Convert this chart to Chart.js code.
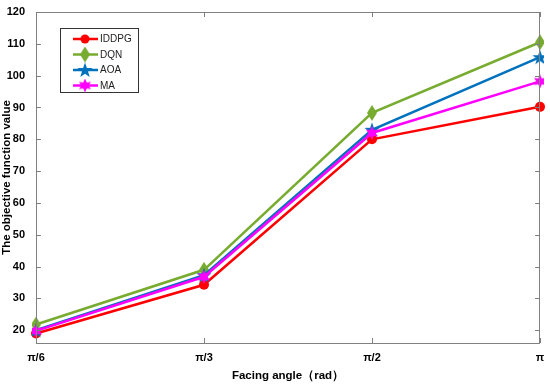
<!DOCTYPE html>
<html lang="en">
<head>
  <meta charset="UTF-8">
  <title>Objective function vs facing angle</title>
  <script src="https://cdn.jsdelivr.net/npm/chart.js"></script>
  <style>
    body { margin: 0; background: #fff; }
    #wrap { width: 550px; height: 386px; }
  </style>
</head>
<body>
  <div id="wrap">
    <canvas id="myChart" width="550" height="386"></canvas>
  </div>

  <script>
    // data
    const angles = ['π/6', 'π/3', 'π/2', 'π'];
    const iddpg = [19, 34.3, 80, 90.2];
    const dqn = [21.8, 39, 88.3, 110.5];
    const aoa = [20, 37.3, 83, 105.8];
    const ma = [19.8, 36.8, 82, 98.2];
    const yTicks = [20, 30, 40, 50, 60, 70, 80, 90, 100, 110, 120];

    const tickFont = { family: "'Liberation Sans Narrow', 'Liberation Sans', Arial", size: 11, weight: 'bold' };
    const titleFont = { family: "'Liberation Sans', Arial", size: 11.5, weight: 'bold' };

    // little marker images
    function marker(w, h, draw) {
      const c = document.createElement('canvas');
      c.width = w; c.height = h;
      draw(c.getContext('2d'), w, h);
      return c;
    }
    function starPath(ctx, cx, cy, n, ro, ri) {
      ctx.beginPath();
      for (let i = 0; i < n * 2; i++) {
        const r = i % 2 ? ri : ro;
        const a = -Math.PI / 2 + i * Math.PI / n;
        ctx.lineTo(cx + r * Math.cos(a), cy + r * Math.sin(a));
      }
      ctx.closePath();
    }
    const diamond = marker(10, 16, (ctx, w, h) => {
      ctx.fillStyle = '#77ac30';
      ctx.beginPath();
      ctx.moveTo(w / 2, 0); ctx.lineTo(w, h / 2); ctx.lineTo(w / 2, h); ctx.lineTo(0, h / 2);
      ctx.closePath(); ctx.fill();
    });
    const star5 = marker(16, 16, (ctx, w, h) => {
      ctx.fillStyle = '#0072bd';
      starPath(ctx, 8, 8.5, 5, 8, 3.2); ctx.fill();
    });
    const star6 = marker(14, 14, (ctx, w, h) => {
      ctx.fillStyle = '#ff00ff';
      starPath(ctx, 7, 7, 6, 7, 3.6); ctx.fill();
    });

    const frame = {
      id: 'frame',
      afterDraw(chart) {
        const ctx = chart.ctx;
        const a = chart.chartArea;
        const xs = chart.scales.x, ys = chart.scales.y;
        ctx.save();
        ctx.strokeStyle = '#808080';
        ctx.lineWidth = 1;
        ctx.strokeRect(a.left + 0.5, a.top + 0.5, a.right - a.left - 1, a.bottom - a.top);
        ctx.beginPath();
        angles.forEach((l, i) => {
          const px = Math.round(xs.getPixelForValue(i)) + 0.5;
          ctx.moveTo(px, a.bottom); ctx.lineTo(px, a.bottom - 5);
          ctx.moveTo(px, a.top); ctx.lineTo(px, a.top + 5);
        });
        yTicks.forEach(v => {
          const py = Math.round(ys.getPixelForValue(v)) + 0.5;
          ctx.moveTo(a.left, py); ctx.lineTo(a.left + 5, py);
          ctx.moveTo(a.right, py); ctx.lineTo(a.right - 5, py);
        });
        ctx.stroke();

        // legend box inside the plot
        const bx = 60, by = 28, bw = 78, bh = 64;
        ctx.fillStyle = '#fff';
        ctx.fillRect(bx, by, bw, bh);
        ctx.strokeStyle = '#333';
        ctx.strokeRect(bx + 0.5, by + 0.5, bw, bh);
        chart.data.datasets.forEach((ds, i) => {
          const y = 39 + i * 15.5;
          ctx.strokeStyle = ds.borderColor;
          ctx.lineWidth = 2.5;
          ctx.beginPath(); ctx.moveTo(73, y); ctx.lineTo(98, y); ctx.stroke();
          const ps = ds.pointStyle;
          if (typeof ps === 'string') {
            ctx.fillStyle = ds.borderColor;
            ctx.beginPath(); ctx.arc(85, y, 4.5, 0, Math.PI * 2); ctx.fill();
          } else {
            ctx.drawImage(ps, 85 - ps.width / 2, y - ps.height / 2);
          }
          ctx.fillStyle = '#222';
          ctx.font = "10px 'Liberation Sans Narrow', 'Liberation Sans', Arial";
          ctx.textBaseline = 'middle';
          ctx.fillText(ds.label, 100, y + 0.5);
        });
        ctx.restore();
      }
    };

    const ctx = document.getElementById('myChart').getContext('2d');
    const myChart = new Chart(ctx, {
      type: 'line',
      data: {
        labels: angles,
        datasets: [
          { label: 'IDDPG', data: iddpg, order: 4, borderColor: '#ff0000', backgroundColor: '#ff0000', pointStyle: 'circle', pointRadius: 5 },
          { label: 'DQN', data: dqn, order: 3, borderColor: '#77ac30', backgroundColor: '#77ac30', pointStyle: diamond },
          { label: 'AOA', data: aoa, order: 2, borderColor: '#0072bd', backgroundColor: '#0072bd', pointStyle: star5 },
          { label: 'MA', data: ma, order: 1, borderColor: '#ff00ff', backgroundColor: '#ff00ff', pointStyle: star6 }
        ]
      },
      options: {
        responsive: false,
        animation: false,
        elements: { line: { borderWidth: 2.5, tension: 0 }, point: { borderWidth: 0 } },
        layout: { padding: { top: 12, right: 10, left: 0, bottom: 0 } },
        plugins: { legend: { display: false }, tooltip: { enabled: false } },
        scales: {
          x: {
            offset: false,
            grid: { display: false },
            border: { display: false },
            ticks: { color: '#000', font: tickFont, padding: 0, maxRotation: 0 },
            title: { display: true, text: 'Facing angle（rad）', color: '#000', font: titleFont, padding: { top: 4, bottom: 3 } },
            afterFit(s) { s.height = 43; }
          },
          y: {
            min: 16,
            max: 120,
            grid: { display: false },
            border: { display: false },
            afterBuildTicks(s) { s.ticks = yTicks.map(v => ({ value: v })); },
            ticks: { color: '#000', font: tickFont, padding: 3 },
            title: { display: true, text: 'The objective function value', color: '#000', font: titleFont, padding: 0 },
            afterFit(s) { s.width = 36; }
          }
        }
      },
      plugins: [frame]
    });
  </script>
</body>
</html>
